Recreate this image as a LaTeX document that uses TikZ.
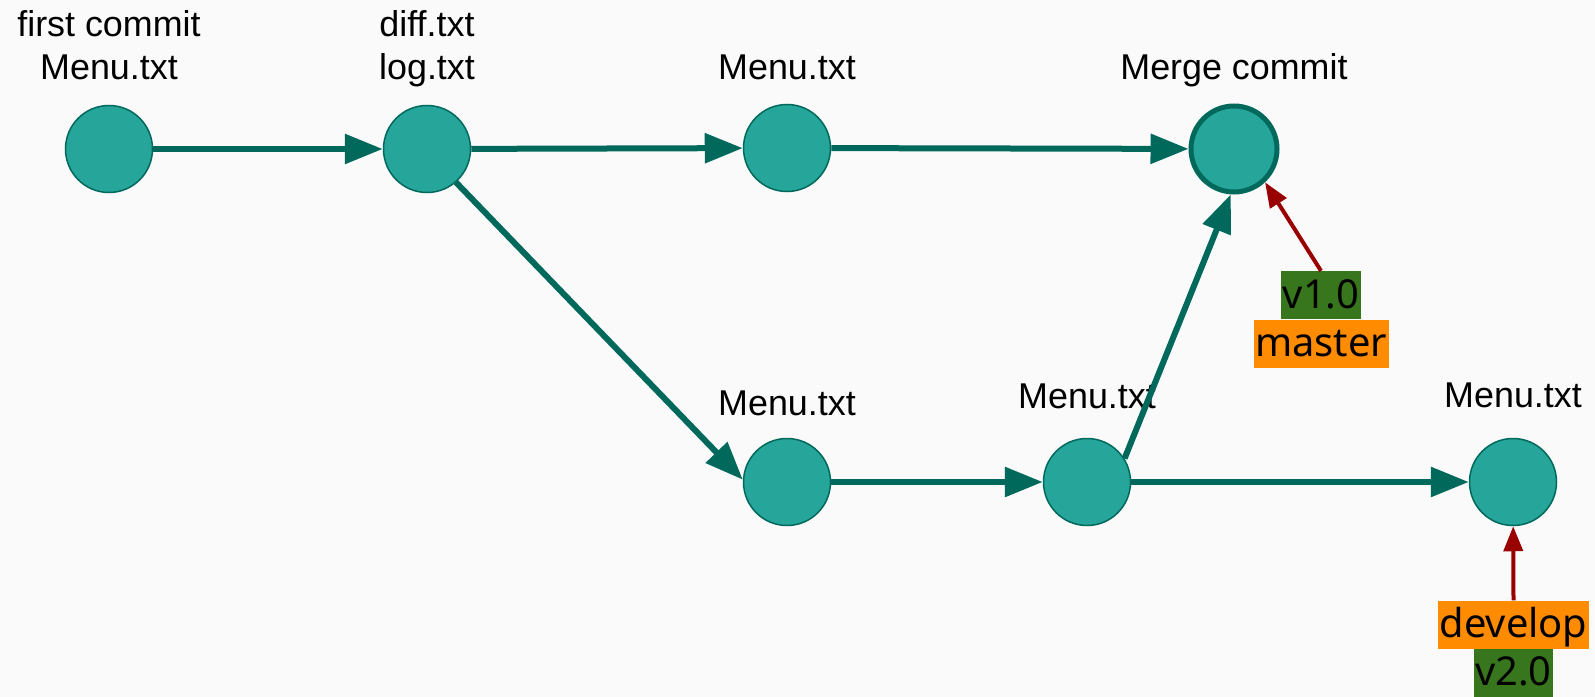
\documentclass[tikz,border=0pt]{standalone}
\usepackage{fontspec}
\setmainfont{Liberation Sans}
\newfontfamily\tagfont{Noto Sans}
\usetikzlibrary{arrows.meta,positioning}
\definecolor{commitfill}{HTML}{26A69A}
\definecolor{commitline}{HTML}{00695C}
\definecolor{tagred}{HTML}{990000}
\definecolor{taggreen}{HTML}{38761D}
\definecolor{tagorange}{HTML}{FF8C00}
\definecolor{paper}{HTML}{FAFAFA}
\tikzset{
  commit/.style={circle,fill=commitfill,draw=commitline,line width=1.5bp,minimum size=87bp,inner sep=0pt},
  msg/.style={font=\fontsize{36}{44}\selectfont,align=center,anchor=base,inner sep=0pt},
  flow/.style={draw=commitline,line width=6bp,-{Triangle[length=38bp,width=29bp]}},
  pointer/.style={draw=tagred,line width=4bp,-{Triangle[length=25bp,width=19bp]}},
  tagbox/.style={font=\tagfont\fontsize{40}{48}\selectfont,inner xsep=1.5bp,inner ysep=0pt,text height=37bp,text depth=11bp},
  branch/.style={tagbox,fill=tagorange},
  version/.style={tagbox,fill=taggreen},
}
\begin{document}
\begin{tikzpicture}[x=1bp,y=-1bp]
      \path[fill=paper,use as bounding box] (0,0) rectangle (1595,697);

      \node[commit] (init) at (109,149) {};
      \node[msg] (initmsg) at (109,80) {first commit\\Menu.txt};

      \node[commit] (logs) at (427,149) {};
      \node[msg] (logsmsg) at (427,80) {diff.txt\\log.txt};

      \node[commit] (menuA) at (787,148) {};
      \node[msg] (menuAmsg) at (787,80) {Menu.txt};

      \node[commit,line width=5bp,minimum size=86bp] (merge) at (1234,149) {};
      \node[msg] (mergemsg) at (1234,80) {Merge commit};

      \node[commit] (menuB) at (787,482) {};
      \node[msg] (menuBmsg) at (787,415) {Menu.txt};

      \node[commit] (menuC) at (1087,482) {};
      \node[msg] (menuCmsg) at (1087,408) {Menu.txt};

      \node[commit] (menuD) at (1513,482) {};
      \node[msg] (menuDmsg) at (1513,407) {Menu.txt};

      % tags
      \node[branch] (master) at (1321,343.5) {master};
      \node[version,above=0pt of master] (vone) {v1.0};
      \node[branch] (develop) at (1513.5,624.5) {develop};
      \node[version,below=0pt of develop] (vtwo) {v2.0};

      \draw[flow] (init) -- (logs);
      \draw[flow] (logs) -- (menuA);
      \draw[flow] (menuA) -- (merge);
      \draw[flow] (logs.-49) -- (menuB.177);
      \draw[flow] (menuB) -- (menuC);
      \draw[flow] (menuC) -- (menuD);
      \draw[flow] (menuC.32) -- (merge.-94);

      \draw[pointer] (vone.north) -- (merge.-47);
      \draw[pointer] (develop.north) -- (menuD);
    \end{tikzpicture}
\end{document}
